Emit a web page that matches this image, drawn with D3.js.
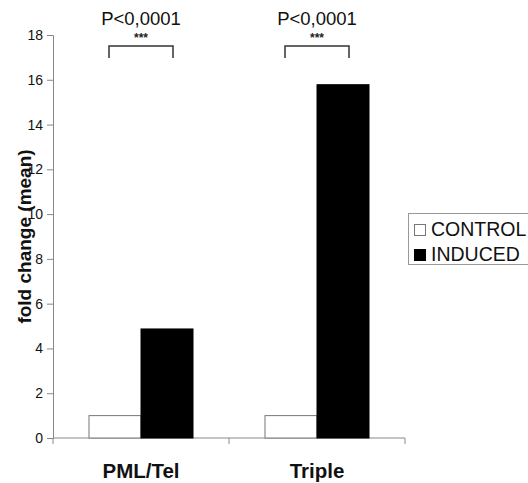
<!DOCTYPE html>
<html><head><meta charset="utf-8">
<script src="https://cdn.jsdelivr.net/npm/d3@7"></script>
<style>body{margin:0;background:#fff}svg{display:block}</style>
</head><body>
<script>
const categories = ["PML/Tel", "Triple"];
const seriesNames = ["CONTROL", "INDUCED"];
const controlValues = [1.0, 1.0];
const inducedValues = [4.87, 15.78];
const yTicks = [0, 2, 4, 6, 8, 10, 12, 14, 16, 18];
const pLabels = ["P<0,0001", "P<0,0001"];
const starLabels = ["***", "***"];
const fills = ["#ffffff", "#000000"];

const W = 528, H = 483;
const svg = d3.select("body").append("svg").attr("width", W).attr("height", H);
const font = "Liberation Sans, Arial, Helvetica, sans-serif";

const x0 = 53, x1 = 405, yTop = 35, yBot = 438;
const x = d3.scaleBand().domain(categories).range([x0, x1]).paddingInner(0).paddingOuter(0);
const y = d3.scaleLinear().domain([0, 18]).range([yBot, yTop]);
const xs = d3.scaleBand().domain(seriesNames).range([0, 104]);

// axes
const yAxis = svg.append("g").attr("transform", `translate(${x0},0)`)
  .call(d3.axisLeft(y).tickValues(yTicks).tickSize(6).tickPadding(4));
yAxis.select(".domain").attr("stroke", "#888");
yAxis.selectAll(".tick line").attr("stroke", "#888");
yAxis.selectAll(".tick text").attr("font-family", font).attr("font-size", 14).attr("fill", "#111");

const xAxisG = svg.append("g").attr("transform", `translate(0,${yBot})`);
xAxisG.append("line").attr("x1", x0).attr("x2", x1).attr("y1", 0).attr("y2", 0).attr("stroke", "#888");
const boundaries = [x0].concat(categories.map(c => x(c) + x.bandwidth()));
xAxisG.selectAll("line.tk").data(boundaries).enter().append("line").attr("class", "tk")
  .attr("x1", d => d).attr("x2", d => d).attr("y1", 0).attr("y2", 6).attr("stroke", "#888");
xAxisG.selectAll("text").data(categories).enter().append("text")
  .attr("x", d => x(d) + x.bandwidth() / 2).attr("y", 40)
  .attr("text-anchor", "middle").attr("font-family", font).attr("font-weight", "bold")
  .attr("font-size", 20.5).attr("fill", "#111").text(d => d);

// bars
const groupStart = c => x(c) + x.bandwidth() / 2 - 52;
const series = [controlValues, inducedValues];
series.forEach((vals, si) => {
  svg.selectAll(null).data(categories).enter().append("rect")
    .attr("x", c => groupStart(c) + xs(seriesNames[si]))
    .attr("width", xs.bandwidth())
    .attr("y", (c, i) => y(vals[i]))
    .attr("height", (c, i) => yBot - y(vals[i]))
    .attr("fill", fills[si])
    .attr("stroke", si === 0 ? "#777" : "#000").attr("stroke-width", 1);
});

// significance brackets
categories.forEach((c, i) => {
  const cx = x(c) + x.bandwidth() / 2;
  const bx0 = cx - 32, bx1 = cx + 32;
  svg.append("path").attr("d", `M${bx0},58V46H${bx1}V58`).attr("fill", "none")
    .attr("stroke", "#333").attr("stroke-width", 1.5);
  svg.append("text").attr("x", cx).attr("y", 42).attr("text-anchor", "middle")
    .attr("font-family", font).attr("font-size", 12).attr("font-weight", "bold").attr("fill", "#222").text(starLabels[i]);
  svg.append("text").attr("x", cx).attr("y", 24.5).attr("text-anchor", "middle")
    .attr("font-family", font).attr("font-size", 18.5).attr("fill", "#111").text(pLabels[i]);
});

// y label
svg.append("text").attr("transform", `translate(31,${(yTop + yBot) / 2}) rotate(-90)`)
  .attr("text-anchor", "middle").attr("font-family", font).attr("font-weight", "bold")
  .attr("font-size", 19).attr("fill", "#111").text("fold change (mean)");

// legend
const lg = svg.append("g");
lg.append("rect").attr("x", 408.5).attr("y", 213.5).attr("width", 130).attr("height", 51)
  .attr("fill", "#fff").attr("stroke", "#999");
seriesNames.forEach((s, i) => {
  const ly = 236 + i * 25;
  lg.append("rect").attr("x", 414.5).attr("y", ly - 11.5).attr("width", 11).attr("height", 11)
    .attr("fill", fills[i]).attr("stroke", i === 0 ? "#777" : "#000");
  lg.append("text").attr("x", 431).attr("y", ly).attr("font-family", font)
    .attr("font-size", 19.5).attr("fill", "#111").text(s);
});
</script>
</body></html>
